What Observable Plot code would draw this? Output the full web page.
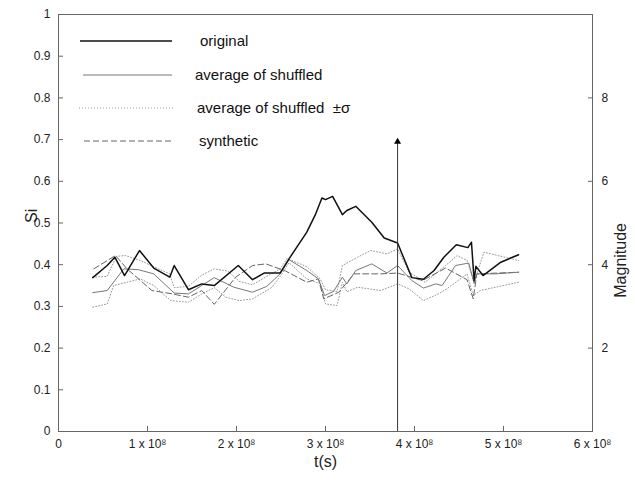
<!DOCTYPE html>
<html><head><meta charset="utf-8">
<script src="https://cdn.jsdelivr.net/npm/d3@7"></script>
<script src="https://cdn.jsdelivr.net/npm/@observablehq/plot@0.6"></script>
<style>
body{margin:0;background:#fff;font-family:"Liberation Sans",Arial,sans-serif;}
#wrap{position:relative;width:635px;height:483px;}
#legend{position:absolute;left:0;top:0;}
</style></head>
<body><div id="wrap"></div>
<script>
// t in units of 1e8 s
const tOriginal = [0.385,0.547,0.633,0.742,0.91,1.07,1.25,1.30,1.46,1.61,1.75,2.02,2.18,2.31,2.49,2.59,2.79,2.89,2.96,3.0,3.08,3.19,3.24,3.34,3.52,3.66,3.81,3.97,4.10,4.22,4.33,4.47,4.60,4.64,4.67,4.69,4.77,4.97,5.17];
const siOriginal = [0.369,0.398,0.418,0.374,0.434,0.392,0.37,0.398,0.34,0.354,0.35,0.398,0.364,0.38,0.38,0.414,0.478,0.522,0.56,0.556,0.564,0.52,0.53,0.54,0.502,0.464,0.452,0.369,0.365,0.386,0.418,0.448,0.441,0.454,0.362,0.396,0.374,0.406,0.424];

const tShuffled = [0.385,0.547,0.734,0.90,1.07,1.30,1.46,1.75,1.97,2.18,2.34,2.49,2.59,2.79,2.92,2.99,3.09,3.19,3.24,3.34,3.52,3.69,3.81,3.97,4.10,4.24,4.31,4.46,4.61,4.67,4.70,4.91,5.17];
const siShuffled = [0.333,0.338,0.39,0.388,0.378,0.332,0.33,0.369,0.346,0.334,0.348,0.378,0.412,0.386,0.366,0.326,0.336,0.37,0.354,0.386,0.402,0.38,0.398,0.362,0.344,0.354,0.35,0.398,0.404,0.355,0.378,0.378,0.382];

const tUpper = [0.385,0.547,0.65,0.75,0.92,1.07,1.25,1.30,1.46,1.61,1.75,1.90,2.03,2.18,2.34,2.49,2.57,2.79,2.94,3.0,3.13,3.19,3.36,3.51,3.69,3.81,3.94,4.12,4.35,4.48,4.59,4.67,4.78,5.17];
const siUpper = [0.37,0.372,0.42,0.422,0.41,0.395,0.378,0.345,0.348,0.375,0.39,0.385,0.36,0.352,0.372,0.39,0.415,0.395,0.366,0.34,0.335,0.398,0.418,0.434,0.426,0.438,0.382,0.358,0.398,0.422,0.41,0.358,0.43,0.41];

const tLower = [0.385,0.547,0.62,0.92,1.07,1.26,1.46,1.61,1.75,1.88,2.03,2.18,2.40,2.51,2.59,2.79,2.94,3.0,3.13,3.19,3.24,3.36,3.62,3.81,3.94,4.10,4.27,4.39,4.59,4.66,4.74,4.91,5.17];
const siLower = [0.298,0.306,0.35,0.366,0.35,0.314,0.31,0.33,0.345,0.322,0.314,0.318,0.346,0.378,0.405,0.366,0.354,0.306,0.302,0.358,0.335,0.346,0.338,0.354,0.342,0.314,0.33,0.346,0.378,0.326,0.338,0.346,0.358];

const tSynthetic = [0.397,0.64,0.77,1.05,1.28,1.46,1.61,1.75,1.99,2.18,2.33,2.55,2.79,2.92,2.98,3.15,3.32,3.62,3.81,4.09,4.35,4.59,4.66,4.70,5.17];
const siSynthetic = [0.39,0.422,0.39,0.338,0.33,0.322,0.338,0.305,0.37,0.398,0.402,0.385,0.358,0.366,0.318,0.334,0.378,0.378,0.38,0.362,0.392,0.364,0.318,0.378,0.382];

const eventT = [3.81];
const eventMagnitude = [6.95];

const xTicks = [0,1,2,3,4,5,6];
const yTicks = [0,0.1,0.2,0.3,0.4,0.5,0.6,0.7,0.8,0.9,1];
const magTicks = [2,4,6,8];
const magMax = 10;

const legendLabels = ["original","average of shuffled","average of shuffled  \u00B1\u03C3","synthetic"];

const zip = (t, v) => t.map((d, i) => ({t: d, v: v[i]}));

const sup = "\u2078";
const fmtX = d => d === 0 ? "0" : `${d} x 10${sup}`;

const plot = Plot.plot({
  width: 635, height: 483,
  marginLeft: 58, marginRight: 43, marginTop: 14, marginBottom: 52,
  style: {fontFamily: '"Liberation Sans", Arial, sans-serif', fontSize: "12px", color: "#222", background: "#fff"},
  x: {domain: [0, 6]},
  y: {domain: [0, 1]},
  marks: [
    Plot.frame({stroke: "#666"}),
    Plot.axisX({ticks: xTicks, tickFormat: fmtX, tickSize: -5, tickPadding: 13, stroke: "#666", label: null, fontSize: 12}),
    Plot.axisY({ticks: yTicks, tickFormat: d => String(d), tickSize: -5, tickPadding: 13, stroke: "#666", label: null, fontSize: 12}),
    Plot.axisY({anchor: "right", ticks: magTicks.map(m => m / magMax), tickFormat: d => String(Math.round(d * magMax)), tickSize: -5, tickPadding: 14, stroke: "#666", label: null, fontSize: 12}),
    Plot.text(["t(s)"], {frameAnchor: "bottom", dy: 35, fontSize: 16, fill: "#222"}),
    Plot.text(["Si"], {frameAnchor: "left", dx: -27, rotate: -90, fontSize: 16, fill: "#222"}),
    Plot.text(["Magnitude"], {frameAnchor: "right", dx: 28, rotate: -90, fontSize: 16, fill: "#222"}),
    Plot.line(zip(tLower, siLower), {x: "t", y: "v", stroke: "#9a9a9a", strokeWidth: 1, strokeDasharray: "1,2"}),
    Plot.line(zip(tUpper, siUpper), {x: "t", y: "v", stroke: "#9a9a9a", strokeWidth: 1, strokeDasharray: "1,2"}),
    Plot.line(zip(tSynthetic, siSynthetic), {x: "t", y: "v", stroke: "#666", strokeWidth: 1, strokeDasharray: "6,3"}),
    Plot.line(zip(tShuffled, siShuffled), {x: "t", y: "v", stroke: "#777", strokeWidth: 1}),
    Plot.line(zip(tOriginal, siOriginal), {x: "t", y: "v", stroke: "#111", strokeWidth: 1.5}),
    Plot.ruleX(eventT.map((t, i) => ({t, m: eventMagnitude[i]})), {x: "t", y1: 0, y2: d => d.m / magMax, stroke: "#333", strokeWidth: 1}),
    Plot.dot(eventT.map((t, i) => ({t, m: eventMagnitude[i]})), {x: "t", y: d => d.m / magMax, symbol: "triangle", r: 2.6, fill: "#000", stroke: "none"})
  ]
});
document.getElementById("wrap").appendChild(plot);

// legend overlay
const legendStyles = [
  {stroke: "#111", width: 1.5, dash: null, x1: 80, x2: 172, tx: 200},
  {stroke: "#777", width: 1, dash: null, x1: 83, x2: 172, tx: 195},
  {stroke: "#9a9a9a", width: 1, dash: "1,2", x1: 79, x2: 175, tx: 197},
  {stroke: "#666", width: 1, dash: "6,3", x1: 84, x2: 172, tx: 199}
];
const legendY = [41, 75, 108, 141];
const svg = d3.select("#wrap").append("svg").attr("id", "legend").attr("width", 635).attr("height", 483);
legendLabels.forEach((lab, i) => {
  const s = legendStyles[i];
  svg.append("line").attr("x1", s.x1).attr("x2", s.x2).attr("y1", legendY[i]).attr("y2", legendY[i])
    .attr("stroke", s.stroke).attr("stroke-width", s.width).attr("stroke-dasharray", s.dash);
  svg.append("text").attr("x", s.tx).attr("y", legendY[i]).attr("dy", "0.35em")
    .attr("font-size", 15).attr("fill", "#111").attr("font-family", '"Liberation Sans", Arial, sans-serif')
    .style("white-space", "pre").text(lab);
});
</script></body></html>
